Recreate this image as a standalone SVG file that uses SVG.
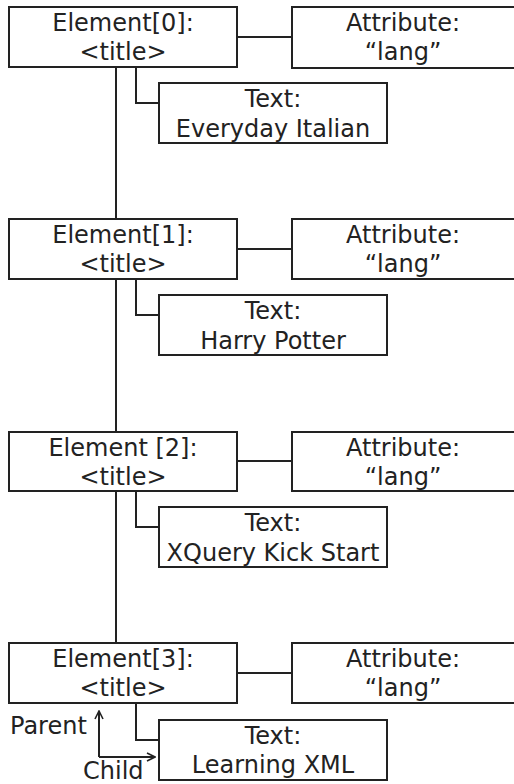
<svg xmlns="http://www.w3.org/2000/svg" width="514" height="784" viewBox="0 0 514 784">
<style>
.box{fill:#fff;stroke:#222;stroke-width:2}
.ln{fill:none;stroke:#222;stroke-width:2}
text{font-family:"DejaVu Sans",Verdana,sans-serif;font-size:24px;fill:#222}
.c{text-anchor:middle}
</style>
<defs>
<marker id="arr" viewBox="0 0 10 10" refX="9" refY="5" markerWidth="10" markerHeight="10" markerUnits="userSpaceOnUse" orient="auto">
<path d="M1,1 L9,5 L1,9" fill="none" stroke="#222" stroke-width="1.6"/>
</marker>
</defs>
<g id="connectors">
<path class="ln" d="M116,67 V643"/>
<path class="ln" d="M237,37 H292 M136,67 V103 H159"/>
<path class="ln" d="M237,249 H292 M136,279 V315 H159"/>
<path class="ln" d="M237,461 H292 M136,491 V527 H159"/>
<path class="ln" d="M237,673 H292 M136,703 V740 H159"/>
<path class="ln" d="M99,757 V711" marker-end="url(#arr)"/>
<path class="ln" d="M99,757 H155" marker-end="url(#arr)"/>
</g>
<g id="element0"><rect class="box" x="9" y="7" width="228" height="60"/><text class="c" x="123" y="31">Element[0]:</text><text class="c" x="123" y="60">&lt;title&gt;</text></g>
<g id="attr0"><rect class="box" x="292" y="7" width="230" height="61"/><text class="c" x="403" y="31">Attribute:</text><text class="c" x="403" y="60">“lang”</text></g>
<g id="text0"><rect class="box" x="159" y="83" width="228" height="60"/><text class="c" x="273" y="107">Text:</text><text class="c" x="273" y="137">Everyday Italian</text></g>

<g id="element1"><rect class="box" x="9" y="219" width="228" height="60"/><text class="c" x="123" y="243">Element[1]:</text><text class="c" x="123" y="272">&lt;title&gt;</text></g>
<g id="attr1"><rect class="box" x="292" y="219" width="230" height="60"/><text class="c" x="403" y="243">Attribute:</text><text class="c" x="403" y="272">“lang”</text></g>
<g id="text1"><rect class="box" x="159" y="295" width="228" height="60"/><text class="c" x="273" y="319">Text:</text><text class="c" x="273" y="349">Harry Potter</text></g>

<g id="element2"><rect class="box" x="9" y="432" width="228" height="59"/><text class="c" x="123" y="456">Element [2]:</text><text class="c" x="123" y="485">&lt;title&gt;</text></g>
<g id="attr2"><rect class="box" x="292" y="432" width="230" height="59"/><text class="c" x="403" y="456">Attribute:</text><text class="c" x="403" y="485">“lang”</text></g>
<g id="text2"><rect class="box" x="159" y="507" width="228" height="60"/><text class="c" x="273" y="531">Text:</text><text class="c" x="273" y="561">XQuery Kick Start</text></g>

<g id="element3"><rect class="box" x="9" y="643" width="228" height="60"/><text class="c" x="123" y="667">Element[3]:</text><text class="c" x="123" y="696">&lt;title&gt;</text></g>
<g id="attr3"><rect class="box" x="292" y="643" width="230" height="60"/><text class="c" x="403" y="667">Attribute:</text><text class="c" x="403" y="696">“lang”</text></g>
<g id="text3"><rect class="box" x="159" y="720" width="228" height="60"/><text class="c" x="273" y="744">Text:</text><text class="c" x="273" y="773">Learning XML</text></g>

<g id="labels"><text x="10" y="734">Parent</text><text x="83" y="779">Child</text></g>
</svg>
